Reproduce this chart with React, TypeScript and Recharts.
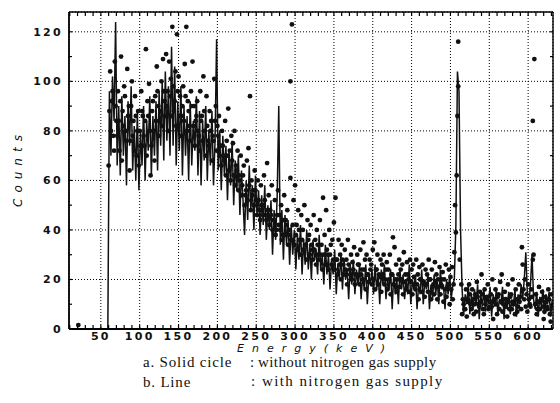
import React from 'react';
import { ComposedChart, Line, Scatter, XAxis, YAxis, CartesianGrid } from 'recharts';

// tick labels
const xTicks = [50, 100, 150, 200, 250, 300, 350, 400, 450, 500, 550, 600];
const yTicks = [0, 20, 40, 60, 80, 100, 120];
const xMinorTicks = [10, 20, 30, 40, 50, 60, 70, 80, 90, 100, 110, 120, 130, 140, 150, 160, 170, 180, 190, 200,
  210, 220, 230, 240, 250, 260, 270, 280, 290, 300, 310, 320, 330, 340, 350, 360, 370, 380, 390, 400,
  410, 420, 430, 440, 450, 460, 470, 480, 490, 500, 510, 520, 530, 540, 550, 560, 570, 580, 590, 600, 610, 620, 630];
const yMinorTicks = [10, 20, 30, 40, 50, 60, 70, 80, 90, 100, 110, 120];

// b. Line : with nitrogen gas supply  [energy keV, counts]
const withNitrogen: [number, number][] = [
  [59, 0], [61, 96], [63, 70], [65, 102], [67, 84], [69, 124], [71, 66], [73, 90], [75, 62], [77, 94],
  [79, 70], [81, 86], [83, 58], [85, 92], [87, 74], [89, 98], [91, 64], [93, 82], [95, 60], [97, 88],
  [99, 56], [101, 80], [103, 66], [105, 90], [107, 60], [109, 84], [111, 72], [113, 94], [115, 62], [117, 86],
  [119, 70], [121, 92], [123, 64], [125, 96], [127, 74], [129, 100], [131, 68], [133, 104], [135, 76], [137, 98],
  [139, 70], [141, 114], [143, 74], [145, 106], [147, 66], [149, 92], [151, 72], [153, 98], [155, 62], [157, 90],
  [159, 70], [161, 86], [163, 60], [165, 92], [167, 66], [169, 84], [171, 72], [173, 94], [175, 62], [177, 88],
  [179, 58], [181, 84], [183, 68], [185, 90], [187, 60], [189, 80], [191, 66], [193, 88], [195, 58], [197, 76],
  [199, 117], [201, 64], [203, 80], [205, 56], [207, 78], [209, 62], [211, 74], [213, 52], [215, 72], [217, 58],
  [219, 76], [221, 50], [223, 68], [225, 56], [227, 70], [229, 46], [231, 64], [233, 52], [235, 38], [237, 60],
  [239, 44], [241, 66], [243, 48], [245, 58], [247, 40], [249, 62], [251, 46], [253, 56], [255, 38], [257, 54],
  [259, 42], [261, 58], [263, 36], [265, 50], [267, 40], [269, 52], [271, 30], [273, 48], [275, 36], [277, 54],
  [279, 90], [281, 34], [283, 48], [285, 28], [287, 46], [289, 34], [291, 44], [293, 26], [295, 42], [297, 30],
  [299, 40], [301, 24], [303, 38], [305, 28], [307, 42], [309, 22], [311, 36], [313, 26], [315, 40], [317, 24],
  [319, 34], [321, 20], [323, 36], [325, 28], [327, 32], [329, 22], [331, 38], [333, 24], [335, 30], [337, 18],
  [339, 34], [341, 22], [343, 30], [345, 16], [347, 28], [349, 22], [351, 32], [353, 14], [355, 26], [357, 20],
  [359, 30], [361, 16], [363, 28], [365, 20], [367, 24], [369, 12], [371, 26], [373, 18], [375, 28], [377, 14],
  [379, 24], [381, 18], [383, 26], [385, 12], [387, 22], [389, 16], [391, 26], [393, 10], [395, 22], [397, 18],
  [399, 24], [401, 14], [403, 26], [405, 16], [407, 22], [409, 10], [411, 24], [413, 18], [415, 26], [417, 12],
  [419, 20], [421, 16], [423, 24], [425, 8], [427, 22], [429, 14], [431, 20], [433, 10], [435, 24], [437, 16],
  [439, 22], [441, 12], [443, 20], [445, 14], [447, 26], [449, 10], [451, 20], [453, 16], [455, 22], [457, 8],
  [459, 18], [461, 14], [463, 24], [465, 10], [467, 20], [469, 16], [471, 22], [473, 8], [475, 18], [477, 12],
  [479, 22], [481, 14], [483, 20], [485, 10], [487, 24], [489, 16], [491, 18], [493, 8], [495, 20], [497, 14],
  [499, 22], [501, 12], [503, 18], [505, 20], [507, 42], [509, 104], [511, 96], [513, 40], [515, 16], [517, 6],
  [519, 14], [521, 10], [523, 18], [525, 6], [527, 14], [529, 8], [531, 16], [533, 10], [535, 18], [537, 4],
  [539, 14], [541, 9], [543, 16], [545, 7], [547, 13], [549, 10], [551, 17], [553, 5], [555, 14], [557, 9],
  [559, 16], [561, 6], [563, 12], [565, 10], [567, 17], [569, 4], [571, 13], [573, 8], [575, 15], [577, 6],
  [579, 12], [581, 9], [583, 16], [585, 5], [587, 14], [589, 10], [591, 18], [593, 12], [595, 20], [597, 31],
  [599, 14], [601, 10], [603, 18], [605, 30], [607, 12], [609, 8], [611, 15], [613, 5], [615, 13], [617, 9],
  [619, 16], [621, 6], [623, 14], [625, 10], [627, 15], [629, 5], [631, 12],
];

// a. Solid circle : without nitrogen gas supply  [energy keV, counts]
const withoutNitrogen: [number, number][] = [
  [21, 1.6],
  [60, 66], [62, 104], [64, 92], [66, 78], [68, 108], [70, 84], [72, 96], [74, 72], [76, 110], [78, 88],
  [80, 98], [82, 80], [84, 105], [86, 90], [88, 76], [90, 100], [92, 84], [94, 94], [96, 70], [98, 88],
  [100, 80], [102, 96], [104, 86], [106, 74], [108, 113], [110, 92], [112, 99], [114, 62], [116, 88], [118, 80],
  [120, 94], [122, 106], [124, 90], [126, 84], [128, 100], [130, 109], [132, 92], [134, 111], [136, 96], [138, 108],
  [140, 101], [142, 122], [144, 88], [146, 104], [148, 119], [150, 102], [152, 94], [154, 86], [156, 98], [158, 107],
  [160, 122], [162, 92], [164, 82], [166, 96], [168, 108], [170, 90], [172, 84], [174, 92], [176, 78], [178, 96],
  [180, 86], [182, 102], [184, 80], [186, 94], [188, 76], [190, 88], [192, 84], [194, 78], [196, 101], [198, 90],
  [200, 82], [202, 86], [204, 74], [206, 80], [208, 70], [210, 84], [212, 76], [214, 89], [216, 72], [218, 78],
  [220, 75], [222, 80], [224, 66], [226, 72], [228, 62], [230, 70], [232, 58], [234, 66], [236, 54], [238, 68],
  [240, 73], [242, 94], [244, 60], [246, 56], [248, 64], [250, 52], [252, 60], [254, 48], [256, 58], [258, 50],
  [260, 62], [262, 46], [264, 67], [266, 54], [268, 48], [270, 58], [272, 44], [274, 52], [276, 40], [278, 56],
  [280, 46], [282, 50], [284, 38], [286, 54], [288, 44], [290, 48], [292, 40], [294, 61], [294, 100], [296, 123],
  [298, 52], [300, 58], [302, 42], [304, 48], [306, 36], [308, 46], [310, 40], [312, 50], [314, 34], [316, 44],
  [318, 38], [320, 42], [322, 32], [324, 46], [326, 36], [328, 40], [330, 30], [332, 44], [334, 34], [336, 53],
  [338, 38], [340, 48], [342, 30], [344, 40], [346, 34], [348, 36], [350, 43], [352, 53], [354, 28], [356, 36],
  [358, 30], [360, 34], [362, 26], [364, 32], [366, 28], [368, 36], [370, 24], [372, 30], [374, 27], [376, 33],
  [378, 22], [380, 30], [382, 26], [384, 32], [386, 24], [388, 35], [390, 28], [392, 30], [394, 22], [396, 28],
  [398, 26], [400, 32], [402, 35], [404, 24], [406, 30], [408, 22], [410, 28], [412, 26], [414, 30], [416, 20],
  [418, 27], [420, 24], [422, 30], [424, 22], [426, 37], [428, 33], [430, 26], [432, 20], [434, 28], [436, 24],
  [438, 26], [440, 31], [442, 22], [444, 27], [446, 20], [448, 28], [450, 24], [452, 26], [454, 18], [456, 28],
  [458, 22], [460, 25], [462, 20], [464, 26], [466, 18], [468, 24], [470, 22], [472, 28], [474, 20], [476, 24],
  [478, 18], [480, 27], [482, 22], [484, 20], [486, 25], [488, 18], [490, 23], [492, 20], [494, 26], [496, 17],
  [498, 24], [500, 21], [502, 25], [504, 18], [505, 31], [506, 50], [507, 39], [508, 62], [509, 86], [510, 98],
  [510, 116], [512, 28], [514, 18], [516, 12], [518, 8], [520, 16], [522, 12], [524, 18], [526, 10], [528, 16],
  [530, 6], [532, 14], [534, 19], [536, 10], [538, 15], [540, 22], [542, 8], [544, 16], [546, 12], [548, 18],
  [550, 9], [552, 14], [554, 20], [556, 11], [558, 16], [560, 6], [562, 14], [564, 19], [566, 22], [568, 10],
  [570, 15], [572, 12], [574, 18], [576, 8], [578, 14], [580, 20], [582, 11], [584, 16], [586, 7], [588, 18],
  [590, 13], [592, 33], [593, 26], [594, 16], [596, 20], [598, 14], [600, 18], [602, 10], [604, 16], [606, 28],
  [607, 30], [606, 84], [608, 109], [610, 14], [612, 8], [614, 17], [616, 11], [618, 15], [620, 4], [622, 13],
  [624, 9], [626, 16], [628, 6], [630, 14],
  // points lying inside the band
  [61, 88], [63, 80], [65, 96], [67, 72], [69, 90], [71, 78], [73, 84], [75, 92], [77, 68], [79, 82],
  [81, 94], [83, 76], [85, 86], [87, 64], [89, 90], [91, 78], [93, 72], [95, 86], [97, 80], [99, 66],
  [101, 74], [103, 88], [105, 78], [107, 84], [109, 70], [111, 86], [113, 80], [115, 74], [117, 92], [119, 68],
  [121, 84], [123, 96], [125, 78], [127, 88], [129, 82], [131, 96], [133, 86], [135, 90], [137, 80], [139, 94],
  [141, 86], [143, 98], [145, 92], [147, 82], [149, 96], [151, 86], [153, 78], [155, 90], [157, 84], [159, 94],
  [161, 80], [163, 88], [165, 76], [167, 90], [169, 82], [171, 74], [173, 86], [175, 80], [177, 72], [179, 84],
  [181, 76], [183, 88], [185, 70], [187, 82], [189, 74], [191, 80], [193, 68], [195, 76], [197, 84], [199, 72],
  [201, 78], [203, 70], [205, 66], [207, 74], [209, 68], [211, 62], [213, 70], [215, 64], [217, 60], [219, 68],
  [221, 62], [223, 58], [225, 64], [227, 56], [229, 60], [231, 54], [233, 62], [235, 50], [237, 56], [239, 52],
  [241, 58], [243, 48], [245, 54], [247, 50], [249, 56], [251, 46], [253, 52], [255, 44], [257, 50], [259, 46],
  [261, 52], [263, 44], [265, 48], [267, 42], [269, 46], [271, 40], [273, 44], [275, 38], [277, 46], [279, 42],
  [281, 40], [283, 36], [285, 44], [287, 38], [289, 42], [291, 34], [293, 38], [295, 36], [297, 42], [299, 34],
  [301, 38], [303, 32], [305, 40], [307, 30], [309, 36], [311, 32], [313, 34], [315, 28], [317, 36], [319, 30],
  [321, 34], [323, 28], [325, 32], [327, 26], [329, 34], [331, 28], [333, 30], [335, 24], [337, 30], [339, 26],
  [341, 32], [343, 24], [345, 30], [347, 26], [349, 28], [351, 24], [353, 28], [355, 22], [357, 26], [359, 20],
  [361, 28], [363, 22], [365, 24], [367, 18], [369, 26], [371, 22], [373, 20], [375, 24], [377, 18], [379, 22],
  [381, 26], [383, 18], [385, 22], [387, 20], [389, 24], [391, 16], [393, 22], [395, 19], [397, 24], [399, 18],
  [401, 20], [403, 16], [405, 24], [407, 18], [409, 21], [411, 15], [413, 22], [415, 18], [417, 24], [419, 16],
  [421, 20], [423, 14], [425, 22], [427, 18], [429, 20], [431, 15], [433, 22], [435, 17], [437, 20], [439, 14],
  [441, 19], [443, 16], [445, 22], [447, 15], [449, 19], [451, 14], [453, 21], [455, 16], [457, 18], [459, 12],
  [461, 20], [463, 15], [465, 19], [467, 13], [469, 18], [471, 15], [473, 20], [475, 12], [477, 17], [479, 14],
  [481, 19], [483, 12], [485, 17], [487, 14], [489, 20], [491, 11], [493, 16], [495, 13], [497, 18], [499, 10],
  [501, 16], [503, 12], [515, 6], [517, 10], [519, 8], [521, 5], [523, 11], [525, 14], [527, 8], [529, 12],
  [531, 10], [533, 7], [535, 13], [537, 9], [539, 11], [541, 14], [543, 6], [545, 10], [547, 13], [549, 8],
  [551, 11], [553, 9], [555, 4], [557, 12], [559, 10], [561, 13], [563, 8], [565, 11], [567, 7], [569, 12],
  [571, 9], [573, 5], [575, 11], [577, 13], [579, 8], [581, 10], [583, 6], [585, 12], [587, 9], [589, 11],
  [591, 8], [595, 12], [597, 9], [599, 7], [601, 12], [603, 9], [605, 13], [609, 10], [611, 6], [613, 11],
  [615, 8], [617, 12], [619, 9], [621, 7], [623, 11], [625, 8], [627, 12], [629, 3], [631, 9],
];

const lineData = withNitrogen.map(([x, y]) => ({ x, y }));
const dotData = withoutNitrogen.map(([x, y]) => ({ x, y }));

// layout constants (plot frame)
const W = 560;
const H = 403;
const M = { top: 12, right: 7, bottom: 54, left: 0 };
const Y_AXIS_W = 69;
const X_AXIS_H = 20;
const PLOT_LEFT = M.left + Y_AXIS_W;
const PLOT_RIGHT = W - M.right;
const PLOT_TOP = M.top;
const PLOT_BOTTOM = H - M.bottom - X_AXIS_H;

const tickFont = { fontFamily: 'DejaVu Sans', fontWeight: 700, fontSize: 11, letterSpacing: 2.3, fill: '#111' };

const Dot = (props: any) => <circle cx={props.cx} cy={props.cy} r={2.4} fill="#111" />;

// minor inward tick marks, drawn at the frame edges
const BottomMinor = (p: any) => <line x1={p.x} x2={p.x} y1={PLOT_BOTTOM} y2={PLOT_BOTTOM - 4} stroke="#000" strokeWidth={1.2} />;
const TopMinor = (p: any) => <line x1={p.x} x2={p.x} y1={PLOT_TOP} y2={PLOT_TOP + 4} stroke="#000" strokeWidth={1.2} />;
const LeftMinor = (p: any) => <line x1={PLOT_LEFT} x2={PLOT_LEFT + 3} y1={p.y} y2={p.y} stroke="#000" strokeWidth={1.2} />;
const RightMinor = (p: any) => <line x1={PLOT_RIGHT} x2={PLOT_RIGHT - 3} y1={p.y} y2={p.y} stroke="#000" strokeWidth={1.2} />;

export default function App() {
  return (
    <div style={{ position: 'absolute', left: 0, top: 0, width: W, height: H, background: '#fff' }}>
      <ComposedChart width={W} height={H} margin={M}>
        <CartesianGrid stroke="#000" strokeDasharray="1 2" strokeWidth={1} />
        <XAxis
          type="number"
          dataKey="x"
          domain={[9, 632]}
          ticks={xTicks}
          interval={0}
          allowDataOverflow
          height={X_AXIS_H}
          tickLine={false}
          tickSize={0}
          tickMargin={3}
          axisLine={{ stroke: '#000', strokeWidth: 1.8 }}
          tick={tickFont}
        />
        <XAxis
          xAxisId="bm"
          type="number"
          dataKey="x"
          domain={[9, 632]}
          ticks={xMinorTicks}
          interval={0}
          allowDataOverflow
          orientation="bottom"
          mirror
          tick={BottomMinor}
          tickLine={false}
          axisLine={false}
        />
        <XAxis
          xAxisId="top"
          type="number"
          dataKey="x"
          domain={[9, 632]}
          ticks={xMinorTicks}
          interval={0}
          allowDataOverflow
          orientation="top"
          mirror
          tick={TopMinor}
          tickLine={false}
          axisLine={{ stroke: '#000', strokeWidth: 1.4 }}
        />
        <YAxis
          type="number"
          dataKey="y"
          domain={[0, 128]}
          ticks={yTicks}
          interval={0}
          allowDataOverflow
          width={Y_AXIS_W}
          tickLine={false}
          tickSize={0}
          tickMargin={6}
          axisLine={{ stroke: '#000', strokeWidth: 1.8 }}
          tick={tickFont}
        />
        <YAxis
          yAxisId="lm"
          type="number"
          domain={[0, 128]}
          ticks={yMinorTicks}
          interval={0}
          allowDataOverflow
          orientation="left"
          mirror
          tick={LeftMinor}
          tickLine={false}
          axisLine={false}
        />
        <YAxis
          yAxisId="right"
          type="number"
          domain={[0, 128]}
          ticks={yMinorTicks}
          interval={0}
          allowDataOverflow
          orientation="right"
          mirror
          tick={RightMinor}
          tickLine={false}
          axisLine={{ stroke: '#000', strokeWidth: 1.4 }}
        />
        <Scatter data={dotData} dataKey="y" shape={Dot} isAnimationActive={false} />
        <Line
          data={lineData}
          dataKey="y"
          type="linear"
          stroke="#111"
          strokeWidth={1.5}
          dot={false}
          activeDot={false}
          isAnimationActive={false}
        />
      </ComposedChart>
      <svg width={W} height={H} style={{ position: 'absolute', left: 0, top: 0, pointerEvents: 'none' }}>
        <text
          transform="translate(22,171) rotate(-90)"
          textAnchor="middle"
          fontFamily="DejaVu Sans"
          fontStyle="italic"
          fontSize={12}
          textLength={72}
          lengthAdjust="spacing"
          fill="#111"
        >
          Counts
        </text>
        <text
          x={311}
          y={352}
          textAnchor="middle"
          fontFamily="DejaVu Sans"
          fontStyle="italic"
          fontSize={11}
          textLength={148}
          lengthAdjust="spacing"
          fill="#111"
        >
          Energy(keV)
        </text>
        <g fontFamily="Liberation Serif" fontSize={15} fill="#111" letterSpacing={0.8}>
          <text x={143} y={367}>a. Solid cicle</text>
          <text x={250} y={367}>:</text>
          <text x={258} y={367} textLength={179} lengthAdjust="spacing">without nitrogen gas supply</text>
          <text x={143} y={387}>b. Line</text>
          <text x={251} y={386}>:</text>
          <text x={262} y={386} textLength={181} lengthAdjust="spacing">with nitrogen gas supply</text>
        </g>
      </svg>
    </div>
  );
}
